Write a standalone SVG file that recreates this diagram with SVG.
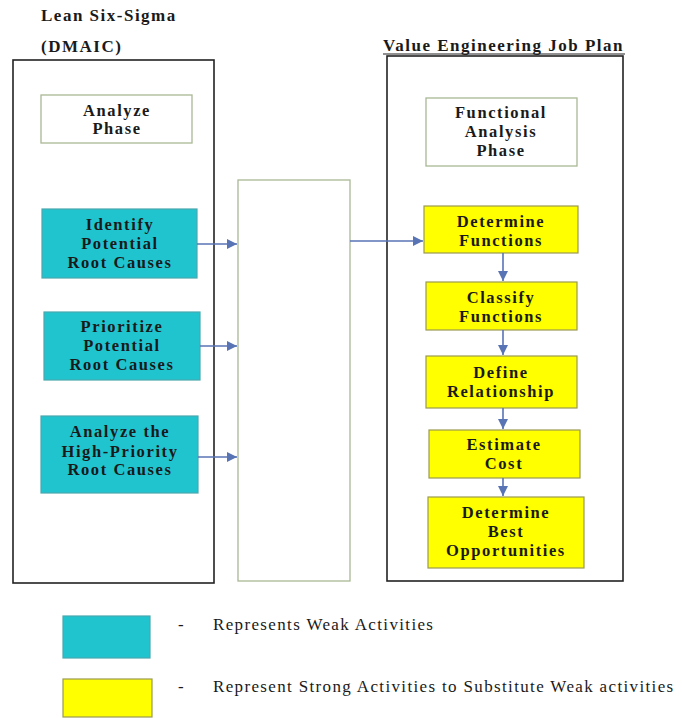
<svg xmlns="http://www.w3.org/2000/svg" width="682" height="718" viewBox="0 0 682 718">
<style>
.t{font-family:'Liberation Serif','Times New Roman',serif;font-weight:bold;font-size:16.5px;letter-spacing:1.6px;fill:#1a1a1a;text-anchor:middle}
.h{font-family:'Liberation Serif','Times New Roman',serif;font-weight:bold;font-size:17px;letter-spacing:1.5px;fill:#1a1a1a}
.l{font-family:'Liberation Serif','Times New Roman',serif;font-size:17px;letter-spacing:1.35px;fill:#1a1a1a}
.outer{fill:#fff;stroke:#222;stroke-width:1.6}
.phase{fill:#fff;stroke:#a9b894;stroke-width:1.3}
.cyan{fill:#20c4cf;stroke:#4aa8ae;stroke-width:1.2}
.yel{fill:#ffff00;stroke:#9a9a50;stroke-width:1.2}
.c{stroke:#5874b4;stroke-width:1.6;fill:none;marker-end:url(#ah)}
</style>
<defs>
<marker id="ah" markerUnits="userSpaceOnUse" markerWidth="11" markerHeight="10" refX="10" refY="5" orient="auto">
<path d="M0,0 L10,5 L0,10 Z" fill="#5874b4"/>
</marker>
</defs>
<rect width="682" height="718" fill="#fff"/>
<g id="titles">
<text class="h" x="41" y="21">Lean Six-Sigma</text>
<text class="h" x="41" y="52">(DMAIC)</text>
<text class="h" x="383" y="51">Value Engineering Job Plan</text>
<line x1="383" y1="54" x2="625" y2="54" stroke="#222" stroke-width="1.2"/>
</g>
<g id="lss-container"><rect class="outer" x="13" y="60" width="201" height="523"/></g>
<g id="ve-container"><rect class="outer" x="387" y="56" width="236" height="525"/></g>
<g id="middle-box"><rect class="phase" x="238" y="180" width="112" height="401"/></g>
<g id="analyze-phase">
<rect class="phase" x="41" y="95" width="151" height="48"/>
<text class="t" x="117" y="116">Analyze</text>
<text class="t" x="117" y="134">Phase</text>
</g>
<g id="functional-phase">
<rect class="phase" x="426" y="98" width="151" height="68"/>
<text class="t" x="501" y="118">Functional</text>
<text class="t" x="501" y="137">Analysis</text>
<text class="t" x="501" y="156">Phase</text>
</g>
<g id="identify">
<rect class="cyan" x="42" y="209" width="155" height="69"/>
<text class="t" x="120" y="230">Identify</text>
<text class="t" x="120" y="249">Potential</text>
<text class="t" x="120" y="268">Root Causes</text>
</g>
<g id="prioritize">
<rect class="cyan" x="44" y="312" width="156" height="68"/>
<text class="t" x="122" y="332">Prioritize</text>
<text class="t" x="122" y="351">Potential</text>
<text class="t" x="122" y="370">Root Causes</text>
</g>
<g id="analyze-high">
<rect class="cyan" x="41" y="416" width="157" height="77"/>
<text class="t" x="120" y="437">Analyze the</text>
<text class="t" x="120" y="457">High-Priority</text>
<text class="t" x="120" y="475">Root Causes</text>
</g>
<g id="determine-functions">
<rect class="yel" x="424" y="206" width="154" height="47"/>
<text class="t" x="501" y="227">Determine</text>
<text class="t" x="501" y="246">Functions</text>
</g>
<g id="classify-functions">
<rect class="yel" x="426" y="282" width="151" height="48"/>
<text class="t" x="501" y="303">Classify</text>
<text class="t" x="501" y="322">Functions</text>
</g>
<g id="define-relationship">
<rect class="yel" x="426" y="356" width="151" height="52"/>
<text class="t" x="501" y="378">Define</text>
<text class="t" x="501" y="397">Relationship</text>
</g>
<g id="estimate-cost">
<rect class="yel" x="429" y="430" width="151" height="48"/>
<text class="t" x="504" y="450">Estimate</text>
<text class="t" x="504" y="469">Cost</text>
</g>
<g id="determine-best">
<rect class="yel" x="428" y="497" width="156" height="71"/>
<text class="t" x="506" y="518">Determine</text>
<text class="t" x="506" y="537">Best</text>
<text class="t" x="506" y="556">Opportunities</text>
</g>
<g id="connectors">
<line class="c" x1="197" y1="244" x2="237" y2="244"/>
<line class="c" x1="200" y1="346" x2="237" y2="346"/>
<line class="c" x1="198" y1="457" x2="237" y2="457"/>
<line class="c" x1="350" y1="241" x2="423" y2="241"/>
<line class="c" x1="503" y1="253" x2="503" y2="281"/>
<line class="c" x1="503" y1="330" x2="503" y2="355"/>
<line class="c" x1="503" y1="408" x2="503" y2="429"/>
<line class="c" x1="503" y1="478" x2="503" y2="496"/>
</g>
<g id="legend">
<rect class="cyan" x="63" y="616" width="87" height="42"/>
<rect class="yel" x="63" y="679" width="89" height="38"/>
<text class="l" x="178" y="630">-</text>
<text class="l" x="213" y="630">Represents Weak Activities</text>
<text class="l" x="178" y="692">-</text>
<text class="l" x="213" y="692">Represent Strong Activities to Substitute Weak activities</text>
</g>
</svg>
